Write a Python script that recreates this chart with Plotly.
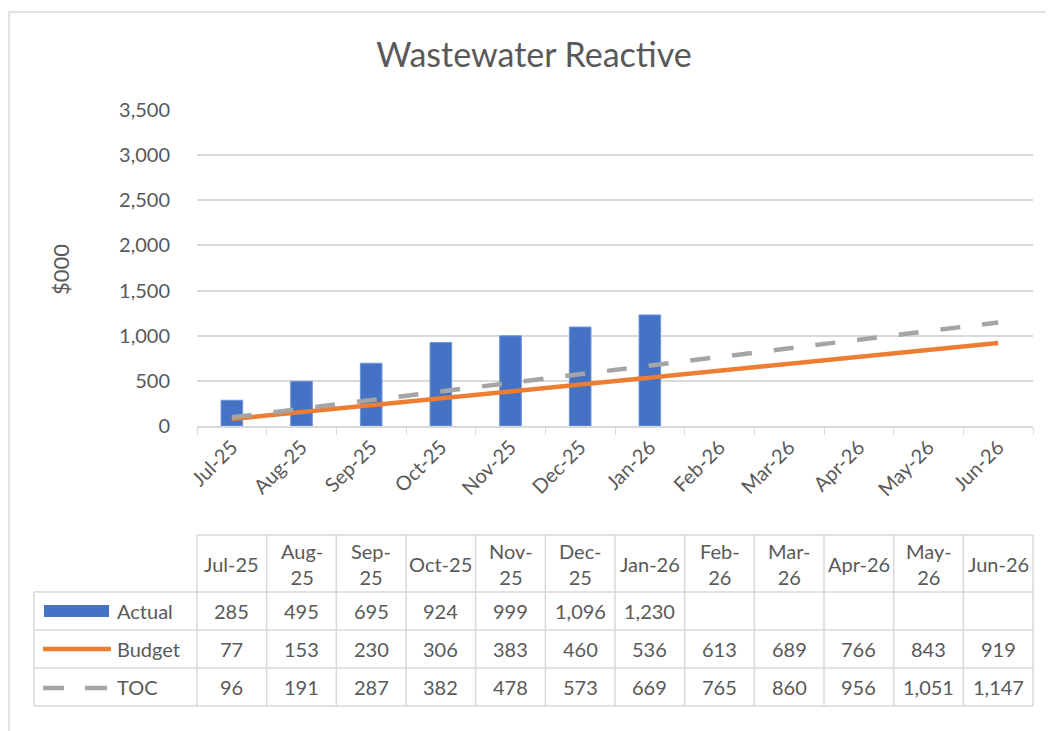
import plotly.graph_objects as go

# chart data
months = ["Jul-25", "Aug-25", "Sep-25", "Oct-25", "Nov-25", "Dec-25",
          "Jan-26", "Feb-26", "Mar-26", "Apr-26", "May-26", "Jun-26"]
header_labels = ["Jul-25", "Aug-<br>25", "Sep-<br>25", "Oct-25", "Nov-<br>25", "Dec-<br>25",
                 "Jan-26", "Feb-<br>26", "Mar-<br>26", "Apr-26", "May-<br>26", "Jun-26"]
actual = [285, 495, 695, 924, 999, 1096, 1230, None, None, None, None, None]
budget = [77, 153, 230, 306, 383, 460, 536, 613, 689, 766, 843, 919]
toc = [96, 191, 287, 382, 478, 573, 669, 765, 860, 956, 1051, 1147]
series_names = ["Actual", "Budget", "TOC"]

FONT = "Lato, 'Open Sans', sans-serif"
TXT = "#595959"
GRID = "#d9d9d9"
BLUE = "#4472C4"
ORANGE = "#ED7D31"
GREY = "#A5A5A5"

# page body adds an 8px margin, so the figure is drawn 8px smaller
OFF = 8
W, H = 1054, 731
L, R, T, B = 197, 1033, 110, 426


def px(x):
    return (x - L) / (R - L)


def py(y):
    return (B - y) / (B - T)


fig = go.Figure()
fig.add_trace(go.Bar(x=months, y=actual, name="Actual", width=0.31,
                     marker=dict(color=BLUE, line=dict(color="#6f93d6", width=1))))
fig.add_trace(go.Scatter(x=months, y=budget, name="Budget", mode="lines",
                         line=dict(color=ORANGE, width=4.5)))
fig.add_trace(go.Scatter(x=months, y=toc, name="TOC", mode="lines",
                         line=dict(color=GREY, width=4.5, dash="20px,22px")))

shapes = []
annotations = []

# outer chart border
shapes.append(dict(type="rect", xref="paper", yref="paper",
                   x0=px(9), x1=px(1070), y0=py(750), y1=py(12),
                   line=dict(color=GRID, width=1.5), layer="below"))

# data table grid
rows_y = [535, 592, 630, 668, 706]
line_style = dict(color=GRID, width=1.5)
shapes.append(dict(type="line", xref="paper", yref="paper",
                   x0=px(L), x1=px(R), y0=py(rows_y[0]), y1=py(rows_y[0]), line=line_style))
for yy in rows_y[1:]:
    shapes.append(dict(type="line", xref="paper", yref="paper",
                       x0=px(34), x1=px(R), y0=py(yy), y1=py(yy), line=line_style))
shapes.append(dict(type="line", xref="paper", yref="paper",
                   x0=px(34), x1=px(34), y0=py(rows_y[1]), y1=py(rows_y[-1]), line=line_style))
for i in range(len(months) + 1):
    xx = L + i * (R - L) / len(months)
    shapes.append(dict(type="line", xref="paper", yref="paper",
                       x0=px(xx), x1=px(xx), y0=py(rows_y[0]), y1=py(rows_y[-1]), line=line_style))

cell_font = dict(size=20, color=TXT, family=FONT)

# header labels and values
col_w = (R - L) / len(months)
for i, lab in enumerate(header_labels):
    cx = L + (i + 0.5) * col_w
    annotations.append(dict(x=px(cx), y=py((rows_y[0] + rows_y[1]) / 2), xref="paper", yref="paper",
                            text=lab, showarrow=False, xanchor="center", yanchor="middle",
                            align="center", font=cell_font))
    for r, vals in enumerate([actual, budget, toc]):
        v = vals[i]
        if v is None:
            continue
        annotations.append(dict(x=px(cx), y=py((rows_y[r + 1] + rows_y[r + 2]) / 2),
                                xref="paper", yref="paper", text=f"{v:,}", showarrow=False,
                                xanchor="center", yanchor="middle", font=cell_font))

# legend keys inside table
for r, name in enumerate(series_names):
    cy = (rows_y[r + 1] + rows_y[r + 2]) / 2
    annotations.append(dict(x=px(115), y=py(cy), xref="paper", yref="paper", text=name,
                            showarrow=False, xanchor="left", yanchor="middle", font=cell_font))
shapes.append(dict(type="rect", xref="paper", yref="paper", x0=px(44), x1=px(109),
                   y0=py(617), y1=py(605), fillcolor=BLUE, line=dict(width=0)))
shapes.append(dict(type="line", xref="paper", yref="paper", x0=px(43), x1=px(111),
                   y0=py(649), y1=py(649), line=dict(color=ORANGE, width=4.5)))
for a, b in [(43, 64), (85, 107)]:
    shapes.append(dict(type="line", xref="paper", yref="paper", x0=px(a), x1=px(b),
                       y0=py(688), y1=py(688), line=dict(color=GREY, width=4.5)))

# y-axis title
annotations.append(dict(x=px(60), y=py(270), xref="paper", yref="paper", text="$000",
                        showarrow=False, textangle=-90, xanchor="center", yanchor="middle",
                        font=dict(size=22, color=TXT, family=FONT)))

fw, fh = W - OFF, H - OFF
fig.update_layout(
    width=fw, height=fh,
    margin=dict(l=L - OFF, r=W - R, t=T - OFF, b=H - B),
    plot_bgcolor="white", paper_bgcolor="white",
    showlegend=False,
    title=dict(text="Wastewater Reactive", x=(534 - OFF) / fw, xanchor="center",
               y=1 - (55 - OFF) / fh, yanchor="middle", yref="container",
               font=dict(size=34, color=TXT, family=FONT)),
    font=dict(family=FONT, color=TXT),
    shapes=shapes, annotations=annotations,
    xaxis=dict(type="category", tickangle=-45, tickson="boundaries", ticks="outside",
               ticklen=7, tickcolor=GRID, showline=True, linecolor=GRID, linewidth=1.5,
               showgrid=False, range=[-0.5, 11.5],
               tickfont=dict(size=20, color=TXT, family=FONT)),
    yaxis=dict(range=[0, 3500], dtick=500, tickformat=",", showgrid=True, gridcolor=GRID,
               gridwidth=1.5, zeroline=False, showline=False,
               ticks="", ticklabelstandoff=26,
               tickfont=dict(size=20, color=TXT, family=FONT)),
)

fig.write_html("out.html")
